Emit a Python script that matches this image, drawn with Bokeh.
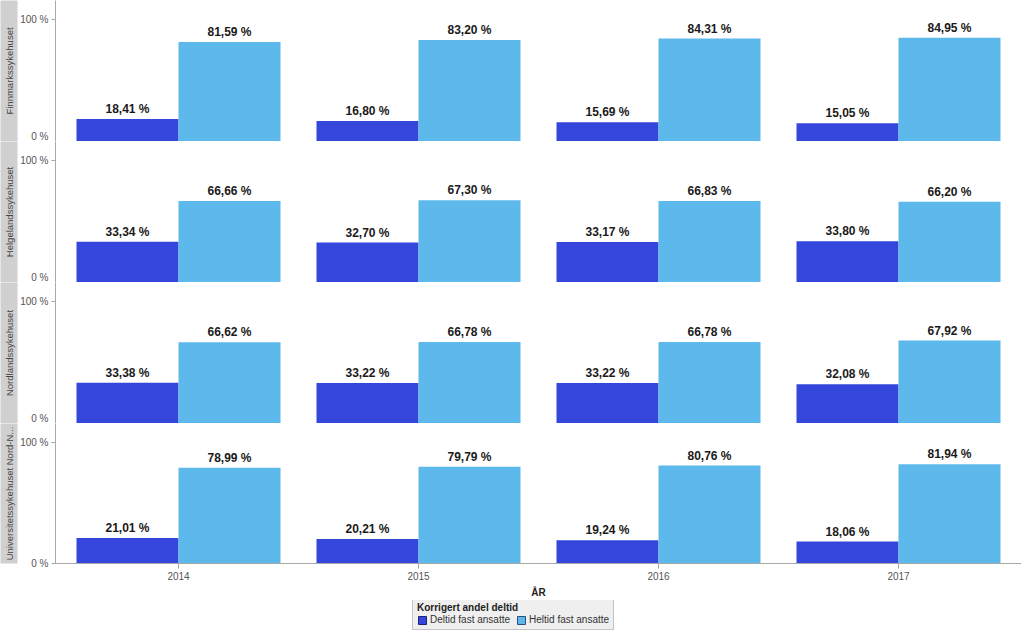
from bokeh.plotting import figure
from bokeh.layouts import column
from bokeh.models import (Range1d, FixedTicker, LinearAxis, ColumnDataSource,
                          Legend, LegendItem)
from bokeh.transform import dodge
from bokeh.embed import file_html
from bokeh.resources import INLINE
from bokeh.core.properties import value

# ---------------- data ----------------
years = ["2014", "2015", "2016", "2017"]
hospitals = ["Finnmarkssykehuset", "Helgelandssykehuset",
             "Nordlandssykehuset", "Universitetssykehuset Nord-N..."]
deltid_finnmark = [18.41, 16.80, 15.69, 15.05]
heltid_finnmark = [81.59, 83.20, 84.31, 84.95]
deltid_helgeland = [33.34, 32.70, 33.17, 33.80]
heltid_helgeland = [66.66, 67.30, 66.83, 66.20]
deltid_nordland = [33.38, 33.22, 33.22, 32.08]
heltid_nordland = [66.62, 66.78, 66.78, 67.92]
deltid_unn = [21.01, 20.21, 19.24, 18.06]
heltid_unn = [78.99, 79.79, 80.76, 81.94]
series_names = ["Deltid fast ansatte", "Heltid fast ansatte"]
legend_title = "Korrigert andel deltid"
x_title = "ÅR"
y_ticks = [0, 100]
y_tick_labels = ["0 %", "100 %"]

deltid_all = [deltid_finnmark, deltid_helgeland, deltid_nordland, deltid_unn]
heltid_all = [heltid_finnmark, heltid_helgeland, heltid_nordland, heltid_unn]

# ---------------- style ----------------
FONT = "Liberation Sans"
DARK = "#3446DB"
LIGHT = "#5DB8EC"
AXIS_GRAY = "#a8a8a8"
W = 1021
H_PANEL = 141
BOTTOM = 36
H_LEGEND = 31
BAR_W = 0.425


def fmt(v):
    return f"{v:.2f}".replace(".", ",") + " %"


x_range = Range1d(-0.5125, len(years) - 1 + 0.5125)
figs = []
sources = []
for i, name in enumerate(hospitals):
    last = i == len(hospitals) - 1
    p = figure(width=W, height=H_PANEL + (BOTTOM if last else 0),
               x_range=x_range, y_range=Range1d(0, 115.5),
               output_backend="svg", toolbar_location=None,
               min_border=0, outline_line_color=None)
    if last:
        p.min_border_bottom = BOTTOM
    p.xgrid.visible = False
    p.ygrid.visible = False

    src = ColumnDataSource(dict(
        x=list(range(len(years))),
        deltid=deltid_all[i],
        heltid=heltid_all[i],
        dlab=[fmt(v) for v in deltid_all[i]],
        hlab=[fmt(v) for v in heltid_all[i]],
    ))
    sources.append(src)
    p.vbar(x=dodge("x", -BAR_W / 2), top="deltid", width=BAR_W,
           source=src, fill_color=DARK, line_color=None)
    p.vbar(x=dodge("x", BAR_W / 2), top="heltid", width=BAR_W,
           source=src, fill_color=LIGHT, line_color=None)
    for xo, col, lab in [(-BAR_W / 2, "deltid", "dlab"), (BAR_W / 2, "heltid", "hlab")]:
        p.text(x=dodge("x", xo), y=col, text=lab,
               source=src, text_align="center", text_baseline="bottom",
               y_offset=-3, text_font=value(FONT), text_font_size="12px",
               text_font_style="bold", text_color="#1a1a1a")

    # y axis
    ya = p.yaxis[0]
    ya.ticker = FixedTicker(ticks=y_ticks)
    ya.major_label_overrides = dict(zip(y_ticks, y_tick_labels))
    ya.major_tick_out = 4
    ya.major_tick_in = 0
    ya.minor_tick_out = 0
    ya.minor_tick_in = 0
    ya.axis_line_color = AXIS_GRAY
    ya.major_tick_line_color = AXIS_GRAY
    ya.major_label_text_font = FONT
    ya.major_label_text_font_size = "10px"
    ya.major_label_text_color = "#555555"
    ya.major_label_standoff = 3

    # strip with panel name
    strip = LinearAxis(ticker=FixedTicker(ticks=[]), axis_label=name,
                       axis_line_color=None, major_tick_out=0, major_tick_in=0,
                       minor_tick_out=0, minor_tick_in=0, major_label_standoff=0,
                       axis_label_standoff=3)
    strip.axis_label_text_font = FONT
    strip.axis_label_text_font_size = "9.5px"
    strip.axis_label_text_font_style = "normal"
    strip.axis_label_text_color = "#444444"
    if "background_fill_color" in strip.properties():
        strip.background_fill_color = "#d0d0d0"
    p.add_layout(strip, "left")

    # right border
    p.add_layout(LinearAxis(ticker=FixedTicker(ticks=[]), major_tick_out=0,
                            major_tick_in=0, minor_tick_out=0, minor_tick_in=0,
                            major_label_standoff=0, axis_line_color=AXIS_GRAY), "right")

    xa = p.xaxis[0]
    xa.axis_line_color = AXIS_GRAY
    xa.minor_tick_out = 0
    xa.minor_tick_in = 0
    xa.major_tick_in = 0
    if last:
        xa.ticker = FixedTicker(ticks=list(range(len(years))))
        xa.major_label_overrides = {k: y for k, y in enumerate(years)}
        xa.major_tick_out = 5
        xa.major_tick_line_color = AXIS_GRAY
        xa.major_label_text_font = FONT
        xa.major_label_text_font_size = "10px"
        xa.major_label_text_color = "#555555"
        xa.major_label_standoff = 3
        xa.axis_label = x_title
        xa.axis_label_text_font = FONT
        xa.axis_label_text_font_size = "10px"
        xa.axis_label_text_font_style = "bold"
        xa.axis_label_text_color = "#222222"
        xa.axis_label_standoff = 4
    else:
        xa.ticker = FixedTicker(ticks=[])
        xa.major_tick_out = 0
        xa.major_label_standoff = 0

    figs.append(p)

# ---------------- legend (own strip below the panels) ----------------
# hidden copies of the two series give the legend its swatches
lg = figure(width=W, height=H_LEGEND, x_range=x_range, y_range=Range1d(0, 115.5),
            output_backend="svg", toolbar_location=None, min_border=0,
            outline_line_color=None, x_axis_location=None, y_axis_location=None)
lg.xgrid.visible = False
lg.ygrid.visible = False
sw1 = lg.vbar(x="x", top="deltid", width=BAR_W, source=sources[-1],
              fill_color=DARK, line_color="#1c2470", visible=False)
sw2 = lg.vbar(x="x", top="heltid", width=BAR_W, source=sources[-1],
              fill_color=LIGHT, line_color="#2a4f7a", visible=False)
legend = Legend(items=[LegendItem(label=series_names[0], renderers=[sw1]),
                       LegendItem(label=series_names[1], renderers=[sw2])],
                title=legend_title, orientation="horizontal", location=(357, 1))
legend.title_text_font = FONT
legend.title_text_font_style = "bold"
legend.title_text_font_size = "10px"
legend.title_text_color = "#222222"
legend.title_standoff = 1
legend.label_text_font = FONT
legend.label_text_font_size = "10px"
legend.label_text_color = "#333333"
legend.glyph_width = 10
legend.glyph_height = 10
legend.label_height = 10
legend.label_standoff = 3
legend.spacing = 6
legend.padding = 4
legend.margin = 0
legend.border_line_color = "#9a9a9a"
legend.background_fill_color = "#efefef"
legend.background_fill_alpha = 1
legend.inactive_fill_alpha = 0
lg.add_layout(legend)
figs.append(lg)

layout = column(*figs)
open("out.html", "w").write(file_html(layout, INLINE))
